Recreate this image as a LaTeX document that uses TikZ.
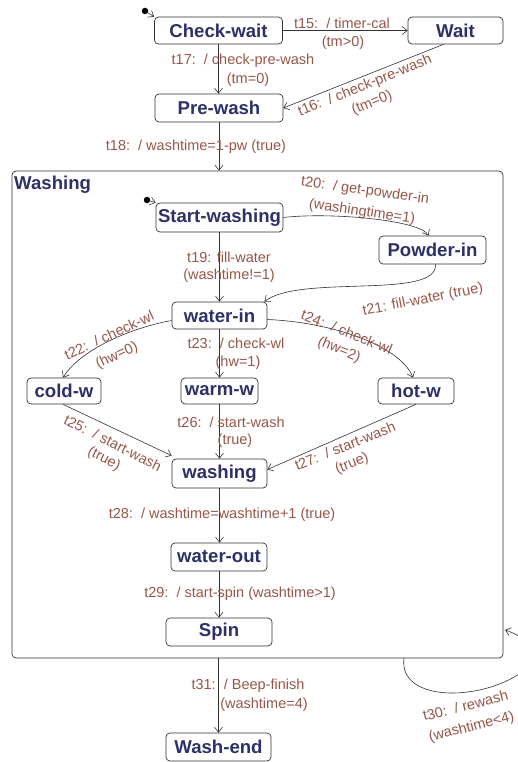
\documentclass[tikz,border=0pt]{standalone}
\usepackage{fontspec}
\setmainfont{Liberation Sans}
\usetikzlibrary{arrows.meta}
\definecolor{statetext}{RGB}{46,49,104}
\definecolor{trantext}{RGB}{150,86,72}
\definecolor{edgegray}{RGB}{50,50,50}

\begin{document}
\begin{tikzpicture}[
  x=1pt,
  y=-1pt,
  stbox/.style={draw=edgegray, rounded corners=4pt, line width=0.7pt, fill=white,
    inner sep=0pt, minimum height=27pt,
    font=\fontsize{18.6}{20}\selectfont\bfseries, text=statetext},
  superstate/.style={draw=edgegray, rounded corners=4pt, line width=0.7pt,
    inner sep=0pt, minimum width=491pt, minimum height=487pt},
  trans/.style={-{Straight Barb[length=5pt,width=8pt]}, line width=0.6pt, draw=edgegray},
  lbl/.style={font=\fontsize{14.5}{16}\selectfont, text=trantext, inner sep=0pt},
  initdot/.style={circle, fill=black, inner sep=0pt, minimum size=6.5pt}
]
  \useasboundingbox (0,0) rectangle (518,762);
  \clip (0,0) rectangle (518,762);

  % top level states
  \node[stbox, minimum width=128pt] (chkwait) at (218.5,30.5) {Check-wait};
  \node[stbox, minimum width=95pt] (wait) at (455.5,30.5) {Wait};
  \node[stbox, minimum width=128pt, minimum height=28pt] (prewash) at (219,108) {Pre-wash};
  \node[superstate] (washbox) at (257.5,414.5) {};
  \node[anchor=west, inner sep=0pt, font=\fontsize{18.6}{20}\selectfont\bfseries,
    text=statetext] (washtitle) at (14,185) {Washing};
  \node[stbox, minimum width=105pt, minimum height=28pt] (washend) at (218.5,747) {Wash-end};

  % states inside Washing
  \node[stbox, minimum width=127pt, minimum height=29pt] (startw) at (219.5,217.5) {Start-washing};
  \node[stbox, minimum width=107pt, minimum height=28pt] (powder) at (432.5,250) {Powder-in};
  \node[stbox, minimum width=95pt] (waterin) at (219.5,315.5) {water-in};
  \node[stbox, minimum width=74pt, minimum height=26pt] (coldw) at (64,391) {cold-w};
  \node[stbox, minimum width=77pt, minimum height=26pt] (warmw) at (219.5,391) {warm-w};
  \node[stbox, minimum width=76pt, minimum height=26pt] (hotw) at (416,391) {hot-w};
  \node[stbox, minimum width=95pt, minimum height=29pt] (washg) at (219.5,473.5) {washing};
  \node[stbox, minimum width=96pt, minimum height=28pt] (waterout) at (219,557) {water-out};
  \node[stbox, minimum width=106pt, minimum height=28pt] (spin) at (219,632) {Spin};

  % initial markers
  \node[initdot] (init0) at (145,11) {};
  \node[initdot] (init1) at (147,200) {};
  \draw[trans] (init0) -- (chkwait.north west);
  \draw[trans] (init1) -- (startw.north west);

  % transitions
  \draw[trans] (chkwait.east) -- (wait.west);
  \node[lbl] (t15a) at (342,23) {t15:\ \ / timer-cal};
  \node[lbl] (t15b) at (343,43) {(tm>0)};

  \draw[trans] (chkwait.south) -- (chkwait.south |- prewash.north);
  \node[lbl] (t17a) at (243,61) {t17:\ \ / check-pre-wash};
  \node[lbl] (t17b) at (248,80) {(tm=0)};

  \draw[trans] ([xshift=-12pt]wait.south) -- (prewash.east);
  \node[lbl, rotate=22] (t16a) at (365,86) {t16:\ \ / check-pre-wash};
  \node[lbl, rotate=22] (t16b) at (372,103) {(tm=0)};

  \draw[trans] (prewash.south) -- (prewash.south |- washbox.north);
  \node[lbl] (t18) at (196,147) {t18:\ \ / washtime=1-pw (true)};

  \draw[trans] (startw.south) -- (startw.south |- waterin.north);
  \node[lbl] (t19a) at (229,257) {t19: fill-water};
  \node[lbl] (t19b) at (229,276) {(washtime!=1)};

  \draw[trans] (startw.east) .. controls (330,212) and (420,220) .. ([xshift=-4pt]powder.north);
  \node[lbl, rotate=-8] (t20a) at (365,191) {t20:\ \ / get-powder-in};
  \node[lbl, rotate=-8] (t20b) at (362,212) {(washingtime=1)};

  \draw[trans] ([xshift=3pt]powder.south) .. controls (438,300) and (300,274) .. ([xshift=-3pt]waterin.north east);
  \node[lbl, rotate=11] (t21) at (423,300) {t21: fill-water (true)};

  \draw[trans] ([yshift=-5pt]waterin.west) .. controls (130,328) and (80,350) .. ([xshift=-1pt]coldw.north);
  \node[lbl, rotate=25] (t22a) at (109,335) {t22:\ \ / check-wl};
  \node[lbl, rotate=25] (t22b) at (117,356) {(hw=0)};

  \draw[trans] (waterin.south) -- (waterin.south |- warmw.north);
  \node[lbl] (t23a) at (236,343) {t23:\ \ / check-wl};
  \node[lbl] (t23b) at (238,363) {(hw=1)};

  \draw[trans] ([yshift=-4pt]waterin.east) .. controls (330,322) and (400,345) .. ([xshift=-3pt]hotw.north);
  \node[lbl, rotate=-22] (t24a) at (347,332) {t24:\ \ / check-wl};
  \node[lbl, rotate=-22] (t24b) at (339,350) {(hw=2)};

  \draw[trans] ([xshift=-1pt]coldw.south) -- ([yshift=3pt]washg.north west);
  \node[lbl, rotate=-27] (t25a) at (113,443) {t25:\ \ / start-wash};
  \node[lbl, rotate=-27] (t25b) at (104,459) {(true)};

  \draw[trans] (warmw.south) -- (warmw.south |- washg.north);
  \node[lbl] (t26a) at (231,422) {t26:\ \ / start-wash};
  \node[lbl] (t26b) at (235,441) {(true)};

  \draw[trans] (hotw.south) -- ([yshift=4pt]washg.east);
  \node[lbl, rotate=22] (t27a) at (345,446) {t27:\ \ / start-wash};
  \node[lbl, rotate=22] (t27b) at (352,464) {(true)};

  \draw[trans] (washg.south) -- (washg.south |- waterout.north);
  \node[lbl] (t28) at (222,515) {t28:\ \ / washtime=washtime+1 (true)};

  \draw[trans] (waterout.south) -- (waterout.south |- spin.north);
  \node[lbl] (t29) at (240,594) {t29:\ \ / start-spin (washtime>1)};

  \draw[trans] (washend.north |- washbox.south) -- (washend.north);
  \node[lbl] (t31a) at (248,686) {t31:\ \ / Beep-finish};
  \node[lbl] (t31b) at (264,705) {(washtime=4)};

  \coordinate (rewashout) at (404,658);
  \coordinate (rewashin) at (505,630);
  \draw[trans] (rewashout) .. controls (398,702) and (480,702) .. (522,672)
    .. controls (540,655) and (530,638) .. (rewashin);
  \node[lbl, rotate=14, anchor=west] (t30a) at (423,716) {t30:\ \ / rewash};
  \node[lbl, rotate=14, anchor=west] (t30b) at (429,738) {(washtime<4)};
\end{tikzpicture}
\end{document}
